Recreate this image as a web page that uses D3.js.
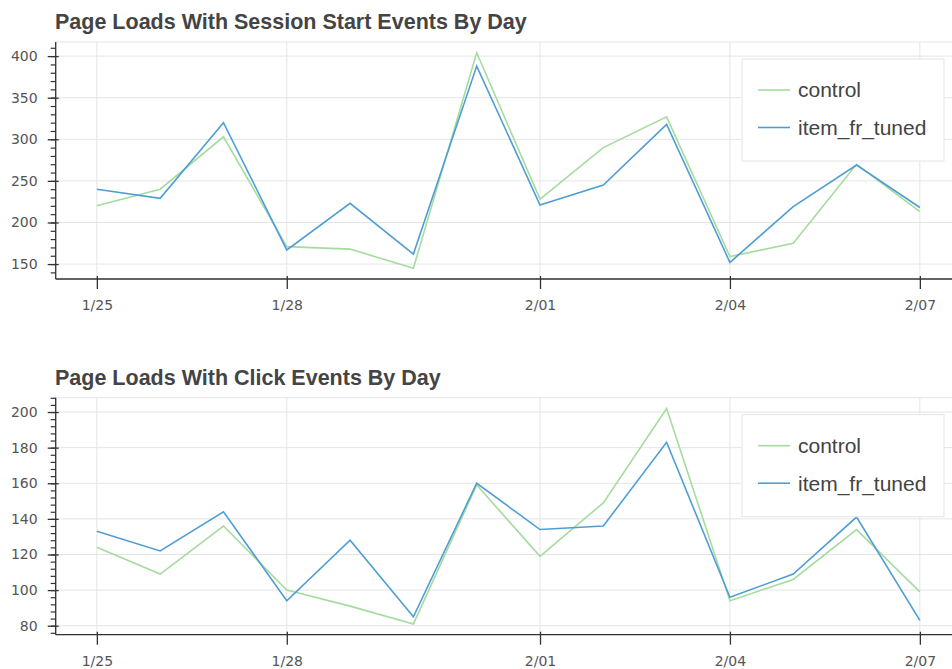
<!DOCTYPE html>
<html>
<head>
<meta charset="utf-8">
<script src="https://cdn.jsdelivr.net/npm/d3@7"></script>
<style>
  body { margin: 0; background: #fff; }
  svg { display: block; }
</style>
</head>
<body>
<svg id="chart" width="952" height="669"></svg>
<script>
// data
var days = ["2017-01-25", "2017-01-26", "2017-01-27", "2017-01-28", "2017-01-29",
            "2017-01-30", "2017-01-31", "2017-02-01", "2017-02-02", "2017-02-03",
            "2017-02-04", "2017-02-05", "2017-02-06", "2017-02-07"];
var seriesNames = ["control", "item_fr_tuned"];
var seriesColors = ["#a6dba0", "#4f9ed3"];

var sessionControl = [220, 240, 303, 171, 168, 145, 404, 228, 290, 327, 159, 175, 270, 213];
var sessionTuned   = [240, 229, 320, 167, 223, 162, 388, 221, 245, 318, 152, 219, 269, 218];
var clickControl   = [124, 109, 136, 100, 91, 81, 159, 119, 149, 202, 94, 106, 134, 99];
var clickTuned     = [133, 122, 144, 94, 128, 85, 160, 134, 136, 183, 96, 109, 141, 83];

var xTickDays   = ["2017-01-25", "2017-01-28", "2017-02-01", "2017-02-04", "2017-02-07"];
var xTickLabels = ["1/25", "1/28", "2/01", "2/04", "2/07"];
var sessionTicks = [150, 200, 250, 300, 350, 400];
var clickTicks   = [80, 100, 120, 140, 160, 180, 200];

var parseDay = d3.utcParse("%Y-%m-%d");
var dates = days.map(parseDay);
var tickDates = xTickDays.map(parseDay);

var svg = d3.select("#chart");

// one panel = title + frame + grid + axes + two lines + legend
function panel(top, title, control, tuned, majorTicks, minorStep) {
  var left = 55.7, right = 961,
      frameTop = top, frameBottom = top + 237;

  // bokeh style 5% padding each side
  var span = dates[dates.length - 1] - dates[0];
  var x = d3.scaleUtc()
    .domain([+dates[0] - span * 0.05, +dates[dates.length - 1] + span * 0.05])
    .range([left, right]);

  var all = control.concat(tuned);
  var lo = d3.min(all), hi = d3.max(all), pad = (hi - lo) * 0.05;
  var y = d3.scaleLinear().domain([lo - pad, hi + pad]).range([frameBottom, frameTop]);

  var g = svg.append("g");

  // title
  g.append("text")
    .attr("x", 55)
    .attr("y", frameTop - 13)
    .style("font-family", "'Liberation Sans', Arial, sans-serif")
    .style("font-weight", "bold")
    .style("font-size", "21.5px")
    .attr("fill", "#444")
    .text(title);

  // frame outline
  g.append("rect")
    .attr("x", left).attr("y", frameTop)
    .attr("width", right - left).attr("height", frameBottom - frameTop)
    .attr("fill", "none").attr("stroke", "#e5e5e5");

  // grid
  g.selectAll(".vgrid").data(tickDates).join("line")
    .attr("x1", d => x(d)).attr("x2", d => x(d))
    .attr("y1", frameTop).attr("y2", frameBottom)
    .attr("stroke", "#e5e5e5");
  g.selectAll(".hgrid").data(majorTicks).join("line")
    .attr("x1", left).attr("x2", right)
    .attr("y1", d => y(d)).attr("y2", d => y(d))
    .attr("stroke", "#e5e5e5");

  // lines
  var line = d3.line().x((d, i) => x(dates[i])).y(d => y(d));
  [control, tuned].forEach(function(vals, k) {
    g.append("path")
      .datum(vals)
      .attr("fill", "none")
      .attr("stroke", seriesColors[k])
      .attr("stroke-width", 1.6)
      .attr("d", line);
  });

  // y axis: minor ticks
  var minor = d3.range(Math.ceil(y.domain()[0] / minorStep) * minorStep, y.domain()[1], minorStep);
  g.append("g")
    .attr("transform", "translate(" + left + ",0)")
    .call(d3.axisLeft(y).tickValues(minor).tickSize(5).tickFormat(""))
    .call(a => a.select(".domain").remove())
    .selectAll("line").attr("stroke", "#333").attr("stroke-width", 1.2);

  // y axis: major ticks crossing the line
  var yAxis = g.append("g")
    .attr("transform", "translate(" + (left + 3) + ",0)")
    .call(d3.axisLeft(y).tickValues(majorTicks).tickSize(11).tickPadding(10));
  yAxis.select(".domain").remove();
  yAxis.selectAll("line").attr("stroke", "#333").attr("stroke-width", 1.3);
  yAxis.selectAll("text")
    .style("font-family", "'DejaVu Sans', sans-serif")
    .style("font-size", "14px")
    .attr("fill", "#555");

  // x axis
  var xAxis = g.append("g")
    .attr("transform", "translate(0," + (frameBottom - 3) + ")")
    .call(d3.axisBottom(x).tickValues(tickDates).tickSize(13).tickPadding(11)
      .tickFormat((d, i) => xTickLabels[i]));
  xAxis.select(".domain").remove();
  xAxis.selectAll("line").attr("stroke", "#333").attr("stroke-width", 1.3);
  xAxis.selectAll("text")
    .style("font-family", "'DejaVu Sans', sans-serif")
    .style("font-size", "14px")
    .attr("fill", "#555");

  // axis lines
  g.append("line")
    .attr("x1", left).attr("x2", left)
    .attr("y1", frameTop).attr("y2", frameBottom)
    .attr("stroke", "#333").attr("stroke-width", 1.3);
  g.append("line")
    .attr("x1", left).attr("x2", right)
    .attr("y1", frameBottom).attr("y2", frameBottom)
    .attr("stroke", "#333").attr("stroke-width", 1.3);

  // legend, top right inside the frame
  var lw = 202, lh = 102;
  var lx = right - 17 - lw, ly = frameTop + 17;
  var legend = g.append("g").attr("transform", "translate(" + lx + "," + ly + ")");
  legend.append("rect")
    .attr("width", lw).attr("height", lh)
    .attr("fill", "#fff").attr("fill-opacity", 0.95)
    .attr("stroke", "#e5e5e5");
  seriesNames.forEach(function(name, k) {
    var cy = 31 + k * 37.5;
    legend.append("line")
      .attr("x1", 16).attr("x2", 48)
      .attr("y1", cy).attr("y2", cy)
      .attr("stroke", seriesColors[k]).attr("stroke-width", 1.6);
    legend.append("text")
      .attr("x", 56).attr("y", cy)
      .attr("dy", "0.35em")
      .style("font-family", "'Liberation Sans', Arial, sans-serif")
      .style("font-size", "21px")
      .attr("fill", "#444")
      .text(name);
  });
}

panel(42, "Page Loads With Session Start Events By Day", sessionControl, sessionTuned, sessionTicks, 10);
panel(397.7, "Page Loads With Click Events By Day", clickControl, clickTuned, clickTicks, 4);
</script>
</body>
</html>
